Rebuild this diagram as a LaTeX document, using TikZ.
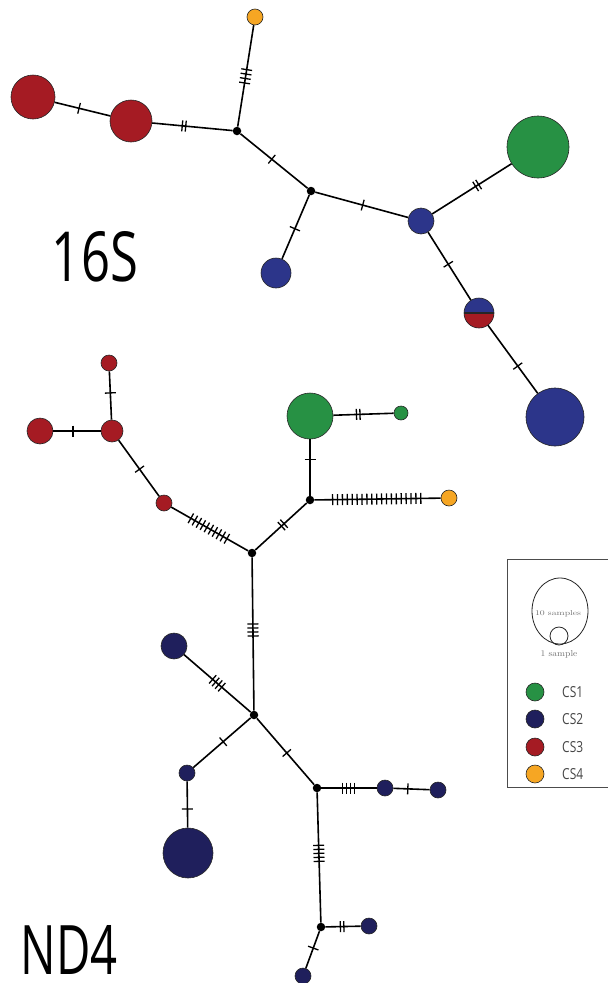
\documentclass[tikz,border=0pt]{standalone}
\usepackage{fontspec}
\usepackage{graphicx}
\usetikzlibrary{calc,shapes.geometric}
\newfontfamily\labfont{Open Sans}
\definecolor{cgreen}{RGB}{39,145,68}
\definecolor{cblue}{RGB}{44,53,138}
\definecolor{cnavy}{RGB}{31,31,92}
\definecolor{cred}{RGB}{165,27,35}
\definecolor{corange}{RGB}{246,166,35}
\definecolor{ctext}{RGB}{70,70,70}
\newcommand\tk[5]{%
  \foreach \i in {1,...,#4}{%
    \coordinate (tkP) at ($(#1)!#3!(#2)$);
    \coordinate (tkQ) at ($(tkP)!{(\i-(#4+1)/2)*#5*1pt}!(#2)$);
    \draw[tickline] ($(tkQ)!5.5pt!90:(#2)$) -- ($(tkQ)!5.5pt!-90:(#2)$);
  }}
\begin{document}
\begin{tikzpicture}[x=1pt,y=-1pt,
  hap/.style={circle, draw=black!85, line width=0.6pt, inner sep=0pt},
  junc/.style={circle, fill=black, inner sep=0pt, minimum size=8.5pt},
  edge/.style={line width=1.6pt, black},
  tickline/.style={line width=1.3pt, black},
  lgtext/.style={anchor=west, inner sep=0pt, text=ctext}]
\useasboundingbox (0,0) rectangle (608,983);
\clip (0,0) rectangle (608,983);
\fill[white] (0,0) rectangle (608,983);

% ---------------- 16S ----------------
\node[hap, fill=cred, minimum size=44pt] (r1) at (33,97) {};
\node[hap, fill=cred, minimum size=42pt] (r2) at (131,121) {};
\node[junc] (A) at (237,131) {};
\node[hap, fill=corange, minimum size=16pt] (o1) at (255,17) {};
\node[junc] (B) at (311,191) {};
\node[hap, fill=cblue, minimum size=30pt] (b1) at (276,273) {};
\node[hap, fill=cblue, minimum size=26pt] (b2) at (421,221) {};
\node[hap, fill=cgreen, minimum size=62pt] (g1) at (538,147) {};
\node[hap, fill=cblue, minimum size=30pt,
  path picture={\fill[cred] (path picture bounding box.west) rectangle (path picture bounding box.south east);
  \draw[line width=1.2pt] (path picture bounding box.west) -- (path picture bounding box.east);}] (h) at (479,313) {};
\node[hap, fill=cblue, minimum size=58pt] (b3) at (555,417) {};

\draw[edge] (r1) -- (r2);
\draw[edge] (r2) -- (A);
\draw[edge] (A) -- (o1);
\draw[edge] (A) -- (B);
\draw[edge] (B) -- (b1);
\draw[edge] (B) -- (b2);
\draw[edge] (b2) -- (g1);
\draw[edge] (b2) -- (h);
\draw[edge] (h) -- (b3);

\tk{r1}{r2}{0.47}{1}{3.5}
\tk{r2}{A}{0.5}{2}{3.5}
\tk{A}{o1}{0.48}{4}{4.5}
\tk{A}{B}{0.47}{1}{3.5}
\tk{B}{b1}{0.46}{1}{3.5}
\tk{B}{b2}{0.47}{1}{3.5}
\tk{b2}{g1}{0.48}{2}{3.5}
\tk{b2}{h}{0.47}{1}{3.5}
\tk{h}{b3}{0.51}{1}{3.5}

\node[inner sep=0pt, font=\labfont] (l16) at (95,257) {\resizebox{86pt}{50pt}{16S}};

% ---------------- ND4 ----------------
\node[hap, fill=cred, minimum size=16pt] (rt) at (109,363) {};
\node[hap, fill=cred, minimum size=22pt] (rm) at (112,431) {};
\node[hap, fill=cred, minimum size=26pt] (rl) at (40,431) {};
\node[hap, fill=cred, minimum size=16pt] (rs) at (164,503) {};
\node[junc] (C) at (252,553) {};
\node[junc] (D) at (310,500) {};
\node[hap, fill=cgreen, minimum size=46pt] (G1) at (310,416) {};
\node[hap, fill=cgreen, minimum size=14pt] (G2) at (401,413) {};
\node[hap, fill=corange, minimum size=16pt] (o2) at (449,498) {};
\node[junc] (E) at (254,715) {};
\node[hap, fill=cnavy, minimum size=26pt] (n1) at (174,646) {};
\node[hap, fill=cnavy, minimum size=16pt] (n2) at (187,773) {};
\node[hap, fill=cnavy, minimum size=50pt] (n3) at (188,853) {};
\node[junc] (F) at (317,788) {};
\node[hap, fill=cnavy, minimum size=16pt] (n4) at (385,788) {};
\node[hap, fill=cnavy, minimum size=16pt] (n5) at (438,790) {};
\node[junc] (H) at (321,927) {};
\node[hap, fill=cnavy, minimum size=16pt] (n6) at (369,926) {};
\node[hap, fill=cnavy, minimum size=16pt] (n7) at (303,976) {};

\draw[edge] (rt) -- (rm);
\draw[edge] (rl) -- (rm);
\draw[edge] (rm) -- (rs);
\draw[edge] (rs) -- (C);
\draw[edge] (C) -- (D);
\draw[edge] (D) -- (G1);
\draw[edge] (G1) -- (G2);
\draw[edge] (D) -- (o2);
\draw[edge] (C) -- (E);
\draw[edge] (E) -- (n1);
\draw[edge] (E) -- (n2);
\draw[edge] (n2) -- (n3);
\draw[edge] (E) -- (F);
\draw[edge] (F) -- (n4);
\draw[edge] (n4) -- (n5);
\draw[edge] (F) -- (H);
\draw[edge] (H) -- (n6);
\draw[edge] (H) -- (n7);

\tk{rt}{rm}{0.44}{1}{3.5}
\tk{rl}{rm}{0.46}{1}{3.5}
\tk{rm}{rs}{0.53}{1}{3.5}
\tk{rs}{C}{0.51}{10}{4.6}
\tk{C}{D}{0.53}{2}{3.5}
\tk{D}{G1}{0.48}{1}{3.5}
\tk{G1}{G2}{0.53}{2}{3.5}
\tk{D}{o2}{0.48}{19}{4.9}
\tk{C}{E}{0.475}{4}{4}
\tk{E}{n1}{0.46}{4}{4}
\tk{E}{n2}{0.46}{1}{3.5}
\tk{n2}{n3}{0.45}{1}{3.5}
\tk{E}{F}{0.52}{1}{3.5}
\tk{F}{n4}{0.46}{4}{4}
\tk{n4}{n5}{0.43}{1}{3.5}
\tk{F}{H}{0.47}{5}{4}
\tk{H}{n6}{0.44}{2}{3.5}
\tk{H}{n7}{0.43}{1}{3.5}

\node[inner sep=0pt, font=\labfont] (lnd) at (69,950) {\resizebox{97pt}{49pt}{ND4}};

% ---------------- legend ----------------
\node[draw=black!70, line width=1pt, minimum width=110pt, minimum height=228pt, inner sep=0pt, anchor=north west] (box) at (507,559) {};
\node[draw=black!85, line width=0.8pt, ellipse, minimum width=56pt, minimum height=66pt, inner sep=0pt] (big) at (560,611) {};
\node[draw=black!85, line width=0.8pt, circle, minimum size=18pt, inner sep=0pt] (small) at (559,636) {};
\node[inner sep=0pt, text=black!55] (t10) at (558,614) {\resizebox{46pt}{5pt}{10 samples}};
\node[inner sep=0pt, text=black!55] (t1) at (559,654) {\resizebox{37pt}{6pt}{1 sample}};

\node[hap, fill=cgreen, minimum size=18pt] (k1) at (535,692) {};
\node[hap, fill=cnavy, minimum size=18pt] (k2) at (535,719) {};
\node[hap, fill=cred, minimum size=18pt] (k3) at (535,747) {};
\node[hap, fill=corange, minimum size=18pt] (k4) at (535,774) {};
\node[lgtext] (c1) at (562,692) {\resizebox{21pt}{11pt}{\labfont CS1}};
\node[lgtext] (c2) at (562,719) {\resizebox{21pt}{11pt}{\labfont CS2}};
\node[lgtext] (c3) at (562,747) {\resizebox{21pt}{11pt}{\labfont CS3}};
\node[lgtext] (c4) at (562,774) {\resizebox{21pt}{11pt}{\labfont CS4}};
\end{tikzpicture}
\end{document}
